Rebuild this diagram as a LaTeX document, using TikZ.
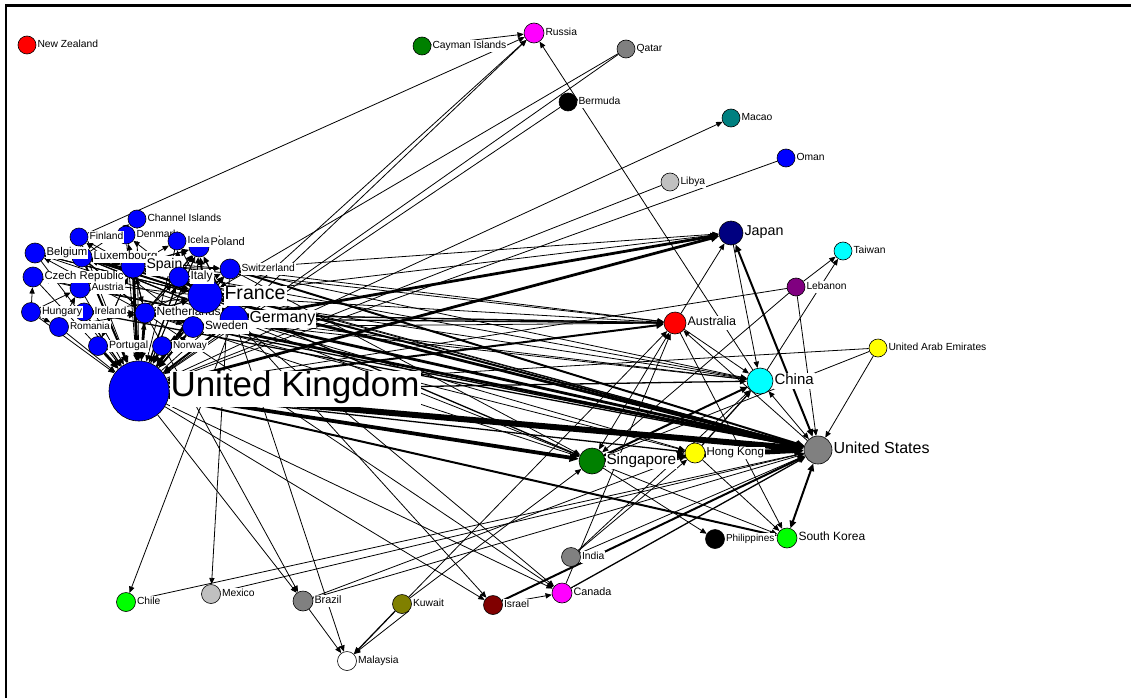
\documentclass[tikz,border=0pt]{standalone}
\usepackage{fontspec}
\setmainfont{Liberation Sans}
\usetikzlibrary{arrows.meta}
\pgfdeclarelayer{edges}
\pgfsetlayers{edges,main}

\definecolor{cblue}{RGB}{0,0,255}
\definecolor{cred}{RGB}{255,0,0}
\definecolor{cdgreen}{RGB}{0,128,0}
\definecolor{cmagenta}{RGB}{255,0,255}
\definecolor{cgray}{RGB}{128,128,128}
\definecolor{csilver}{RGB}{192,192,192}
\definecolor{cteal}{RGB}{0,128,128}
\definecolor{cnavy}{RGB}{0,0,128}
\definecolor{ccyan}{RGB}{0,255,255}
\definecolor{cpurple}{RGB}{128,0,128}
\definecolor{cyellow}{RGB}{255,255,0}
\definecolor{clime}{RGB}{0,255,0}
\definecolor{cmaroon}{RGB}{128,0,0}
\definecolor{colive}{RGB}{128,128,0}

\tikzset{
  dot/.style={circle, draw=black, line width=0.6pt, inner sep=0pt, minimum size=#1},
  lbl/.style={anchor=west, fill=white, inner xsep=1pt, inner ysep=0.6pt, text=black},
  tip/.tip={Triangle[length=5.5pt 1, width=4.5pt 1]},
  ed/.style={line width=0.8pt, -tip},
  bi/.style={line width=0.8pt, tip-tip},
  w0/.style={},
  w1/.style={line width=1.3pt},
  w2/.style={line width=2pt},
  w3/.style={line width=2.8pt},
  w4/.style={line width=3.8pt},
  w6/.style={line width=6pt},
}

% circle of a country: name, x, y, radius, fill colour
\newcommand\ctydot[5]{\node[dot=2*#4pt, fill=#5] (#1) at (#2,#3) {};}
% white-backed name to the right of a circle: name, text, font size
\newcommand\ctyname[3]{\node[lbl, font=\fontsize{#3}{#3}\selectfont] (#1-l) at (#1.east) {\strut #2};}

\begin{document}
\begin{tikzpicture}[x=1pt, y=-1pt]
\useasboundingbox (0,0) rectangle (1131,698);
\draw[line width=2.2pt] (6,698) -- (6,5.6) -- (1131,5.6);

% ---- outlying countries
\ctydot{nz}{27}{45}{9}{cred}       \ctyname{nz}{New Zealand}{10.3}
\ctydot{cay}{422}{46}{9}{cdgreen}  \ctyname{cay}{Cayman Islands}{10.3}
\ctydot{rus}{534}{33}{10}{cmagenta}\ctyname{rus}{Russia}{10.3}
\ctydot{qat}{626}{49}{9}{cgray}    \ctyname{qat}{Qatar}{10.3}
\ctydot{ber}{568}{102}{9}{black}   \ctyname{ber}{Bermuda}{10.3}
\ctydot{mac}{731}{118}{9}{cteal}   \ctyname{mac}{Macao}{10.3}
\ctydot{oma}{786}{158}{9}{cblue}   \ctyname{oma}{Oman}{10.3}
\ctydot{lby}{670}{182}{9}{csilver} \ctyname{lby}{Libya}{10.3}
\ctydot{jpn}{731}{233}{12}{cnavy}  \ctyname{jpn}{Japan}{14.3}
\ctydot{twn}{843}{251}{9}{ccyan}   \ctyname{twn}{Taiwan}{10.3}
\ctydot{lbn}{796}{287}{9}{cpurple} \ctyname{lbn}{Lebanon}{10.3}
\ctydot{aus}{675}{323}{11}{cred}   \ctyname{aus}{Australia}{12.5}
\ctydot{uae}{878}{348}{9}{cyellow} \ctyname{uae}{United Arab Emirates}{10.3}
\ctydot{chn}{760}{381}{13}{ccyan}  \ctyname{chn}{China}{15}
\ctydot{usa}{818}{450}{14}{cgray}  \ctyname{usa}{United States}{16}
\ctydot{sgp}{592}{461}{13}{cdgreen}\ctyname{sgp}{Singapore}{15.3}
\ctydot{hkg}{695}{453}{10}{cyellow}\ctyname{hkg}{Hong Kong}{11.5}
\ctydot{phl}{715}{539}{9.5}{black} \ctyname{phl}{Philippines}{10}
\ctydot{kor}{787}{538}{10}{clime}  \ctyname{kor}{South Korea}{12}
\ctydot{ind}{571}{557}{9.5}{cgray} \ctyname{ind}{India}{10.3}
\ctydot{can}{562}{593}{10}{cmagenta}\ctyname{can}{Canada}{10.8}
\ctydot{isr}{493}{605}{9.5}{cmaroon}\ctyname{isr}{Israel}{10.3}
\ctydot{kwt}{402}{604}{9.5}{colive}\ctyname{kwt}{Kuwait}{10.3}
\ctydot{bra}{303}{601}{10}{cgray}  \ctyname{bra}{Brazil}{10.8}
\ctydot{mex}{211}{594}{9.5}{csilver}\ctyname{mex}{Mexico}{10.3}
\ctydot{chl}{126}{602}{9.5}{clime} \ctyname{chl}{Chile}{10.3}
\ctydot{mys}{347}{661}{9.5}{white} \ctyname{mys}{Malaysia}{10.3}

% ---- Europe
\ctydot{uk}{139}{391}{30}{cblue}
\ctydot{irl}{84}{312}{9}{cblue}
\ctydot{hun}{31}{312}{9.5}{cblue}  \ctyname{hun}{Hungary}{10.6}
\ctyname{irl}{Ireland}{10.4}
\ctydot{rou}{59}{327}{9.5}{cblue}  \ctyname{rou}{Romania}{10}
\ctydot{prt}{98}{346}{9.5}{cblue}  \ctyname{prt}{Portugal}{10.5}
\ctydot{nor}{162}{346}{9.5}{cblue} \ctyname{nor}{Norway}{10}
\ctydot{nld}{145}{313}{10}{cblue}  \ctyname{nld}{Netherlands}{11.9}
\ctydot{swe}{193}{327}{10.5}{cblue}
\ctydot{deu}{234}{319}{14}{cblue}
\ctyname{swe}{Sweden}{11.9}
\ctydot{fra}{205}{296}{17}{cblue}
\node[lbl, font=\fontsize{19.6}{19.6}\selectfont, inner ysep=0pt] (fra-l) at ([xshift=1pt]fra.east) {\strut France};
\ctyname{deu}{Germany}{16}
\ctydot{aut}{80}{288}{10}{cblue}
\ctydot{lux}{82}{257}{10}{cblue}
\ctydot{bel}{35}{253}{10}{cblue}   \ctyname{bel}{Belgium}{11.3}
\ctydot{cze}{33}{277}{10}{cblue}   \ctyname{cze}{Czech Republic}{11.3}
\ctyname{aut}{Austria}{10.3}
\ctydot{esp}{133}{266}{12}{cblue}
\ctyname{lux}{Luxembourg}{11.5}
\node[lbl, font=\fontsize{14}{14}\selectfont, inner ysep=2.5pt] (esp-l) at (esp.east) {\strut Spain};
\ctydot{dnk}{126}{235}{9}{cblue}
\ctydot{fin}{79}{237}{9}{cblue}    \ctyname{fin}{Finland}{10.3}
\ctyname{dnk}{Denmark}{10.3}
\ctydot{chi}{137}{219}{9}{cblue}   \ctyname{chi}{Channel Islands}{10.3}
\ctydot{pol}{199}{247}{10}{cblue}
\ctydot{isl}{177}{241}{9}{cblue}   \ctyname{isl}{Iceland}{10.3}
\node[lbl, font=\fontsize{11}{11}\selectfont] (pol-l) at ([yshift=4pt]pol.east) {\strut Poland};
\ctydot{ita}{179}{277}{10}{cblue}  \ctyname{ita}{Italy}{12}
\ctydot{che}{230}{269}{10}{cblue}  \ctyname{che}{Switzerland}{10.3}
\node[lbl, font=\fontsize{35}{35}\selectfont, inner ysep=0pt] (uk-l) at ([yshift=2pt]uk.east) {\strut United Kingdom};

\begin{pgfonlayer}{edges}
% flows between distant countries
\foreach \a/\b/\w in {
  fin/rus/w0, cay/rus/w0, uk/rus/w0, deu/rus/w0, chn/rus/w0,
  qat/uk/w0, qat/fra/w0, ber/uk/w0, uk/mac/w0, lby/uk/w0, oma/uk/w0,
  lbn/uk/w0, uae/uk/w0,
  uk/jpn/w3, deu/jpn/w3, fra/jpn/w0, che/jpn/w0, jpn/chn/w0, aus/jpn/w0,
  uk/aus/w2, deu/aus/w1, fra/aus/w0, nld/aus/w1, che/aus/w0, swe/aus/w0,
  lux/aus/w0, irl/aus/w0, usa/aus/w0, can/aus/w0, kwt/aus/w0,
  aus/chn/w0, aus/kor/w0,
  uk/chn/w1, deu/chn/w0, fra/chn/w0, nld/chn/w0, che/chn/w0, esp/chn/w0,
  sgp/chn/w2, hkg/chn/w1, ind/chn/w0, chn/twn/w0, lbn/twn/w0,
  uk/usa/w6, deu/usa/w3, fra/usa/w3, nld/usa/w3, lux/usa/w2, che/usa/w2,
  irl/usa/w1, esp/usa/w0, swe/usa/w1, ita/usa/w0, bel/usa/w0,
  sgp/usa/w4, hkg/usa/w4, isr/usa/w2, can/usa/w1, ind/usa/w0,
  chl/usa/w0, mex/usa/w0, bra/usa/w0, lbn/usa/w0, uae/usa/w0,
  uk/sgp/w4, deu/sgp/w0, fra/sgp/w1, nld/sgp/w0, che/sgp/w0,
  lbn/sgp/w0, kwt/sgp/w0, uae/sgp/w0, sgp/hkg/w3, sgp/phl/w0, sgp/kor/w0,
  uk/hkg/w1, deu/hkg/w0, nld/hkg/w0, ind/hkg/w0, bra/hkg/w0, hkg/kor/w0,
  uk/kor/w2, uk/can/w0, nld/can/w0, deu/can/w0, isr/can/w0,
  uk/isr/w0, deu/isr/w0,
  deu/chl/w0, che/mex/w0, uk/bra/w0, nld/bra/w0, deu/mys/w0, bra/mys/w0,
  kwt/mys/w1}
  \draw[ed,\w] (\a) -- (\b);
\foreach \a/\b/\w in {jpn/usa/w2, chn/usa/w0, usa/kor/w2, aus/sgp/w0}
  \draw[bi,\w] (\a) -- (\b);
\draw[ed] (kwt.south east) -- (mys.north east);

% flows into the United Kingdom
\foreach \a/\w in {esp/w3, nld/w3, prt/w3, nor/w3, swe/w2, fra/w3, deu/w2,
  ita/w1, lux/w2, irl/w1, bel/w0, che/w0, dnk/w0, pol/w0, aut/w0, cze/w0,
  rou/w0, hun/w0, fin/w0, chi/w0, isl/w0}
  \draw[ed,\w] (\a) -- (uk);
\foreach \b/\w in {fra/w1, deu/w0, nld/w0, ita/w0, che/w0, swe/w0, pol/w0}
  \draw[ed,\w] (uk) -- (\b);

% flows inside Europe
\foreach \a/\b/\w in {
  lux/bel/w1, fra/bel/w0, nld/bel/w0, deu/bel/w0,
  aut/cze/w0, deu/cze/w0, hun/cze/w0, fra/cze/w0,
  esp/fin/w0, lux/fin/w0, swe/fin/w0, nld/dnk/w0, deu/dnk/w0,
  esp/isl/w0, ita/isl/w0, fra/isl/w0,
  fra/pol/w2, nld/pol/w1, deu/pol/w1, ita/pol/w0, esp/pol/w1, swe/pol/w0,
  fra/che/w0, lux/che/w0, nld/che/w0, esp/che/w0,
  fra/ita/w1, esp/ita/w0, lux/ita/w0, nld/ita/w0,
  fra/esp/w0, lux/esp/w1, nld/esp/w0, prt/esp/w0,
  lux/fra/w2, nld/fra/w1, esp/fra/w1, bel/fra/w0, deu/fra/w1, ita/fra/w0,
  swe/fra/w0, irl/fra/w0,
  nld/deu/w1, fra/deu/w1, lux/deu/w1, aut/deu/w0, swe/deu/w0,
  lux/nld/w1, irl/nld/w0, esp/nld/w0, nor/swe/w0, nld/swe/w0,
  bel/lux/w0, fra/lux/w0, deu/lux/w0,
  deu/aut/w0, rou/aut/w0, hun/aut/w0, hun/rou/w0,
  esp/prt/w0, swe/nor/w0, lux/chi/w0, rou/nld/w0}
  \draw[ed,\w] (\a) -- (\b);
\end{pgfonlayer}
\end{tikzpicture}
\end{document}
